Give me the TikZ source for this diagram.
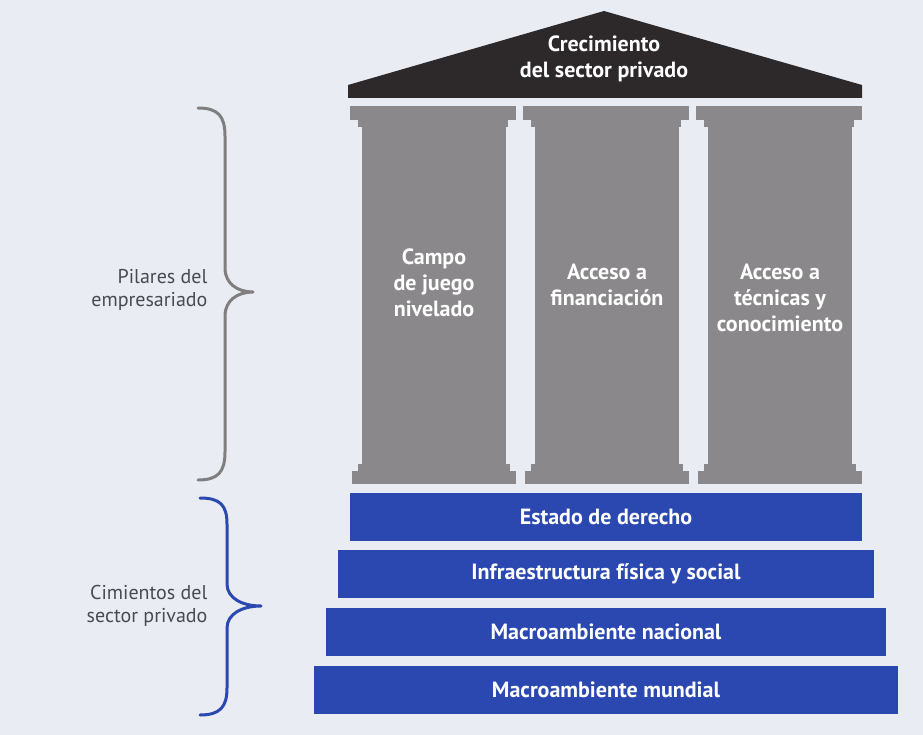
\documentclass[tikz,border=0pt]{standalone}
\usepackage{fontspec}
\setmainfont{PT Sans}
\usetikzlibrary{positioning, calc}
\definecolor{fondo}{RGB}{233,237,243}
\definecolor{techo}{RGB}{45,40,42}
\definecolor{gris}{RGB}{138,136,138}
\definecolor{azul}{RGB}{42,72,176}
\definecolor{texto}{RGB}{72,74,80}
\definecolor{llavegris}{RGB}{128,126,126}
\tikzset{
  templo/.style={
	x=1pt, y=-1pt, % one unit is one pixel of the reference
	every node/.style={font=\fontsize{20}{25}\selectfont},
  },
  blanco/.style={text=white, font=\bfseries\fontsize{22}{26}\selectfont, align=center},
  cimiento/.style={fill=azul, minimum height=48pt, inner sep=0pt, blanco}, % the blue steps
  columna/.style={fill=gris}, % parts of a pillar
  rotulo/.style={text=texto, align=right, anchor=east, font=\fontsize{20}{23}\selectfont},
  llave/.style={line width=3pt, line cap=round, line join=round},
}

\begin{document}
\begin{tikzpicture}[templo]
% background fixes the size of the page
\fill[fondo] (0,0) rectangle (923,735);

% roof
\fill[techo] (348,85) -- (604,11) -- (862,85) -- (862,98) -- (348,98) -- cycle;
\node[blanco] (techo) at (604,59) {Crecimiento\\del sector privado};

% pillars
\foreach \x/\n in {352/a, 525/b, 698/c} {
  \fill[columna] (\x-2,106) rectangle (\x+164,120);
  \fill[columna] (\x+6,120) rectangle (\x+156,127);
  \fill[columna] (\x+10,127) rectangle (\x+154,464);
  \fill[columna] (\x+6,464) rectangle (\x+158,471);
  \fill[columna] (\x,471) rectangle (\x+164,484);
  \coordinate (pilar\n) at (\x+82,285);
}
\node[blanco] (campo) at ($(pilara)+(0,-2)$) {Campo\\de juego\\nivelado};
\node[blanco] (financiacion) at (pilarb) {Acceso a\\financiación};
\node[blanco] (tecnicas) at ($(pilarc)+(0,13)$) {Acceso a\\técnicas y\\conocimiento};

% foundations
\node[cimiento, minimum width=512pt] (estado) at (606,517) {Estado de derecho};
\node[cimiento, minimum width=536pt] (infra) at (606,574) {Infraestructura física y social};
\node[cimiento, minimum width=560pt] (nacional) at (606,632) {Macroambiente nacional};
\node[cimiento, minimum width=584pt] (mundial) at (606,690) {Macroambiente mundial};

% braces and their labels
\draw[llave, llavegris] (198,108) .. controls (218,108) and (225,116) .. (225,136)
	-- (225,268) .. controls (225,284) and (238,292) .. (253,292)
	.. controls (238,292) and (225,300) .. (225,316)
	-- (225,452) .. controls (225,472) and (218,480) .. (198,480);
\draw[llave, azul] (200,498) .. controls (220,498) and (227,505) .. (227,524)
	-- (227,584) .. controls (227,598) and (242,606) .. (261,606)
	.. controls (242,606) and (227,614) .. (227,628)
	-- (227,688) .. controls (227,707) and (220,715) .. (200,715);
\node[rotulo] (pilares) at (211,290) {Pilares del\\empresariado};
\node[rotulo] (cimientos) at (211,606) {Cimientos del\\sector privado};
\end{tikzpicture}
\end{document}
